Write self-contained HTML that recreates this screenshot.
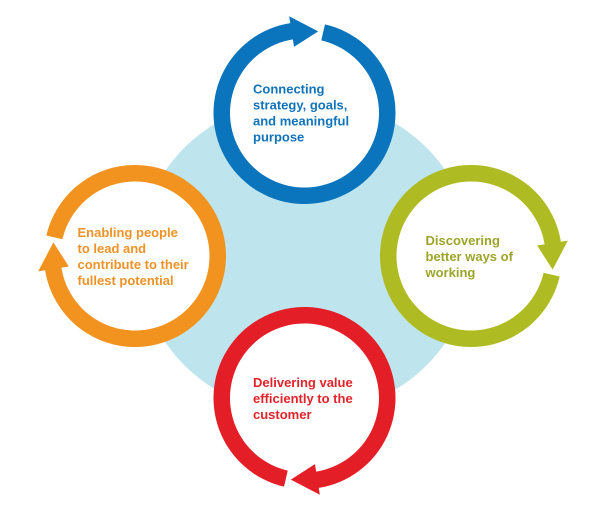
<!DOCTYPE html>
<html>
<head>
<meta charset="utf-8">
<style>
  html, body { margin: 0; padding: 0; background: #ffffff; }
  body { width: 613px; height: 514px; overflow: hidden; }
  svg { display: block; }
  text { font-family: "Liberation Sans", Arial, sans-serif; font-weight: bold; font-size: 13px; }
</style>
</head>
<body>
<svg width="613" height="514" viewBox="0 0 613 514" xmlns="http://www.w3.org/2000/svg">
  <defs>
    <path id="ring" d="M20.47,-88.67 A91,91 0 1 1 -14.24,-89.88 L-15.33,-96.79 L13.66,-81.62 L-10.48,-66.18 L-11.65,-73.58 A74.5,74.5 0 1 0 16.76,-72.59 Z"/>
  </defs>
  <rect x="0" y="0" width="613" height="514" fill="#ffffff"/>
  <ellipse cx="305.5" cy="256.5" rx="167" ry="158" fill="#bee5ee"/>

  <!-- white interiors -->
  <circle cx="304.5" cy="113" r="80" fill="#ffffff"/>
  <circle cx="135" cy="256" r="80" fill="#ffffff"/>
  <circle cx="471" cy="256" r="80" fill="#ffffff"/>
  <circle cx="304.5" cy="398" r="80" fill="#ffffff"/>

  <!-- rings with arrows -->
  <use href="#ring" transform="translate(304.5,113)" fill="#0a74bd"/>
  <use href="#ring" transform="translate(471,256) rotate(90)" fill="#afbb22"/>
  <use href="#ring" transform="translate(304.5,398) rotate(180)" fill="#e31e26"/>
  <use href="#ring" transform="translate(135,256) rotate(270)" fill="#f29320"/>

  <!-- labels -->
  <text fill="#1173ba">
    <tspan x="253" y="93.5">Connecting</tspan>
    <tspan x="253" y="109.5">strategy, goals,</tspan>
    <tspan x="253" y="125.5">and meaningful</tspan>
    <tspan x="253" y="141.5">purpose</tspan>
  </text>
  <text fill="#ef9228">
    <tspan x="77.5" y="237">Enabling people</tspan>
    <tspan x="77.5" y="253">to lead and</tspan>
    <tspan x="77.5" y="269">contribute to their</tspan>
    <tspan x="77.5" y="285">fullest potential</tspan>
  </text>
  <text fill="#9ca52a">
    <tspan x="425.5" y="245">Discovering</tspan>
    <tspan x="425.5" y="261">better ways of</tspan>
    <tspan x="425.5" y="277">working</tspan>
  </text>
  <text fill="#e1232a">
    <tspan x="253" y="387">Delivering value</tspan>
    <tspan x="253" y="403">efficiently to the</tspan>
    <tspan x="253" y="419">customer</tspan>
  </text>
</svg>
</body>
</html>
